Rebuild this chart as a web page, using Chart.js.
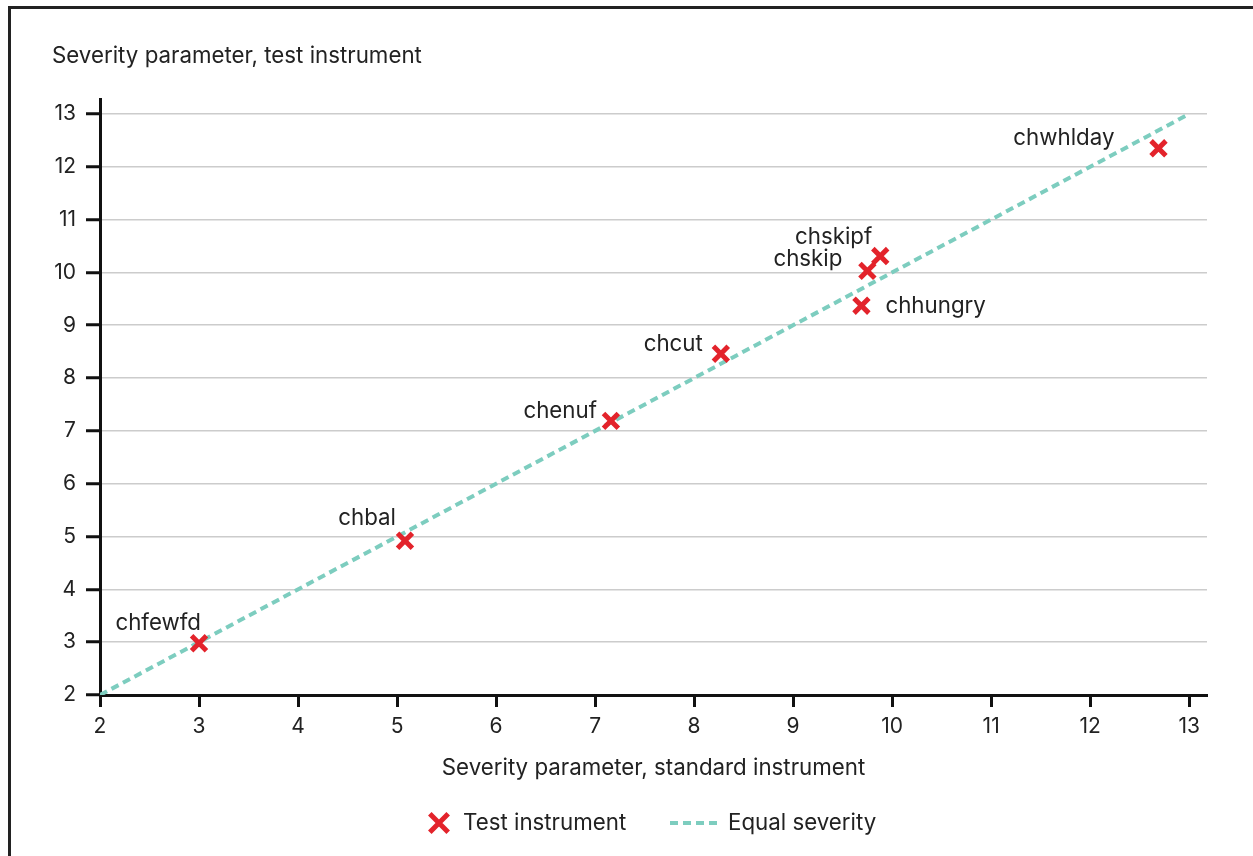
<!DOCTYPE html>
<html>
<head>
<meta charset="utf-8">
<script src="https://cdn.jsdelivr.net/npm/chart.js@4.4.1/dist/chart.umd.min.js"></script>
<style>
  html, body { margin: 0; padding: 0; background: #fff; overflow: hidden; }
  #wrap { position: relative; width: 1253px; height: 856px; }
  #frame { position: absolute; left: 8px; top: 6px; width: 1400px; height: 1000px;
           border-left: 3px solid #222; border-top: 3px solid #222; box-sizing: border-box; pointer-events: none; }
  canvas { position: absolute; left: 0; top: 0; }
</style>
</head>
<body>
<div id="wrap">
  <canvas id="c" width="1253" height="856"></canvas>
  <div id="frame"></div>
</div>
<script>
// ---- data ----
const itemNames = ['chfewfd', 'chbal', 'chenuf', 'chcut', 'chskipf', 'chskip', 'chhungry', 'chwhlday'];
const standardSeverity = [3.00, 5.08, 7.16, 8.27, 9.88, 9.75, 9.69, 12.69];
const testSeverity = [2.98, 4.92, 7.19, 8.46, 10.31, 10.03, 9.37, 12.35];
const equalLineX = [2, 13];
const equalLineY = [2, 13];
const xTickValues = [2, 3, 4, 5, 6, 7, 8, 9, 10, 11, 12, 13];
const yTickValues = [2, 3, 4, 5, 6, 7, 8, 9, 10, 11, 12, 13];
const seriesNames = ['Test instrument', 'Equal severity'];
const xTitle = 'Severity parameter, standard instrument';
const yTitle = 'Severity parameter, test instrument';

// label placement (pixel offsets from the marker, alignment)
const labelPlacement = [
  [2, -20, 'right'], [-9, -22, 'right'], [-14, -10, 'right'], [-18, -9, 'right'],
  [-8, -19, 'right'], [-25, -12, 'right'], [24, 1, 'left'], [-44, -10, 'right']
];

const FONT = 'Inter, "Noto Sans", sans-serif';
const TEXT = '#222';
const RED = '#e3232b';
const TEAL = '#7dcdbf';
const TXT_SIZE = 22.3;

const labelsPlugin = {
  id: 'pointLabels',
  afterDatasetsDraw(chart) {
    const ctx = chart.ctx;
    const meta = chart.getDatasetMeta(0);
    ctx.save();
    ctx.font = TXT_SIZE + 'px ' + FONT;
    ctx.fillStyle = TEXT;
    ctx.textBaseline = 'middle';
    meta.data.forEach((pt, i) => {
      const p = labelPlacement[i];
      ctx.textAlign = p[2];
      ctx.fillText(itemNames[i], pt.x + p[0], pt.y + p[1]);
    });
    ctx.restore();
  }
};

const legendPlugin = {
  id: 'customLegend',
  afterDraw(chart) {
    const ctx = chart.ctx;
    const cy = 823;
    ctx.save();
    ctx.strokeStyle = RED;
    ctx.lineWidth = 5;
    ctx.beginPath();
    const r = 13 * Math.SQRT1_2;
    ctx.moveTo(439 - r, cy - r); ctx.lineTo(439 + r, cy + r);
    ctx.moveTo(439 - r, cy + r); ctx.lineTo(439 + r, cy - r);
    ctx.stroke();
    ctx.strokeStyle = TEAL;
    ctx.lineWidth = 4;
    ctx.setLineDash([8, 5]);
    ctx.beginPath();
    ctx.moveTo(670, cy); ctx.lineTo(720, cy);
    ctx.stroke();
    ctx.setLineDash([]);
    ctx.font = TXT_SIZE + 'px ' + FONT;
    ctx.fillStyle = TEXT;
    ctx.textBaseline = 'middle';
    ctx.textAlign = 'left';
    ctx.fillText(seriesNames[0], 463, cy);
    ctx.fillText(seriesNames[1], 728, cy);
    ctx.restore();
  }
};

new Chart(document.getElementById('c'), {
  data: {
    datasets: [
      {
        type: 'scatter',
        label: seriesNames[0],
        data: standardSeverity.map((x, i) => ({ x: x, y: testSeverity[i] })),
        pointStyle: 'crossRot',
        pointRadius: 10.5,
        pointHoverRadius: 10.5,
        borderWidth: 5,
        borderColor: RED,
        backgroundColor: RED,
        order: 0
      },
      {
        type: 'line',
        label: seriesNames[1],
        data: equalLineX.map((x, i) => ({ x: x, y: equalLineY[i] })),
        borderColor: TEAL,
        borderWidth: 4,
        borderDash: [8, 5],
        pointRadius: 0,
        fill: false,
        order: 1
      }
    ]
  },
  options: {
    responsive: false,
    animation: false,
    events: [],
    layout: { padding: { left: 52, right: 46, top: 0, bottom: 0 } },
    plugins: {
      legend: { display: false },
      tooltip: { enabled: false },
      title: {
        display: true,
        text: yTitle,
        align: 'start',
        color: TEXT,
        font: { family: FONT, size: TXT_SIZE, weight: 'normal', lineHeight: 1.2 },
        padding: { top: 42.6, bottom: 30.6 }
      }
    },
    scales: {
      x: {
        type: 'linear',
        min: 2,
        max: 13.18,
        afterBuildTicks: s => { s.ticks = xTickValues.map(v => ({ value: v })); },
        afterFit: s => { s.height = 161; },
        ticks: {
          color: TEXT,
          font: { family: FONT, size: 21 },
          padding: 7,
          maxRotation: 0,
          callback: v => String(v)
        },
        grid: { drawOnChartArea: false, drawTicks: true, tickLength: 12, tickColor: '#111', tickWidth: 3 },
        border: { display: true, color: '#111', width: 3 },
        title: {
          display: true,
          text: xTitle,
          color: TEXT,
          font: { family: FONT, size: TXT_SIZE, lineHeight: 1.2 },
          padding: { top: 0, bottom: 74.6 }
        }
      },
      y: {
        type: 'linear',
        min: 2,
        max: 13.265,
        afterBuildTicks: s => { s.ticks = yTickValues.map(v => ({ value: v })); },
        afterFit: s => { s.width = 48; },
        ticks: {
          color: TEXT,
          font: { family: FONT, size: 21 },
          padding: 10,
          callback: v => String(v)
        },
        grid: { color: '#cccccc', lineWidth: 1.5, drawTicks: true, tickLength: 14, tickColor: '#111', tickWidth: 3 },
        border: { display: true, color: '#111', width: 3 }
      }
    }
  },
  plugins: [labelsPlugin, legendPlugin]
});
</script>
</body>
</html>
